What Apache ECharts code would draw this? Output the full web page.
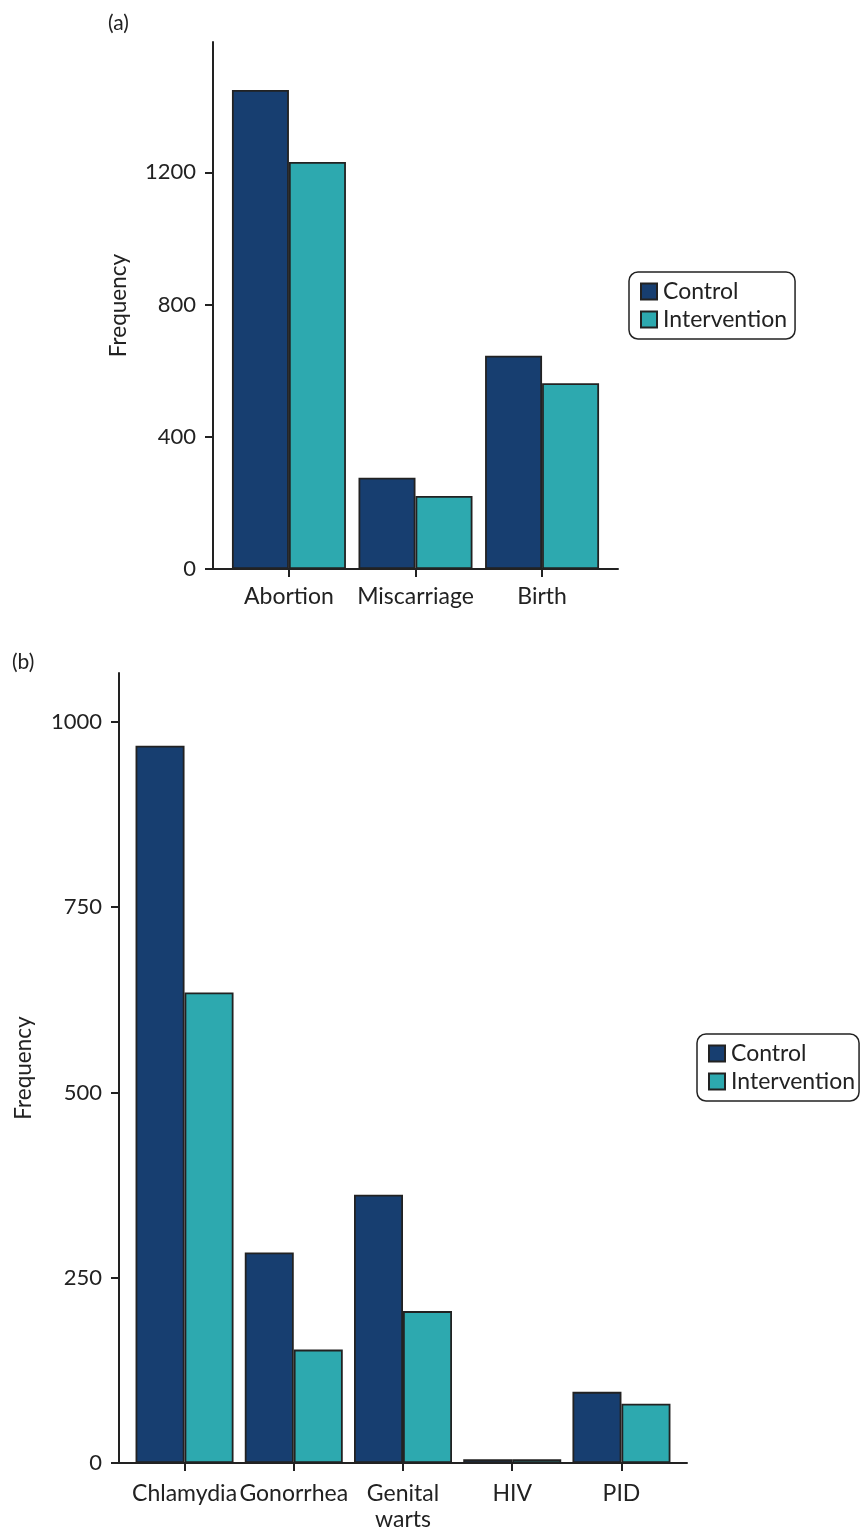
<!DOCTYPE html>
<html>
<head>
<meta charset="utf-8">
<script src="https://cdn.jsdelivr.net/npm/echarts@6/dist/echarts.min.js"></script>
<style>
  html, body { margin: 0; padding: 0; background: #fff; }
  #chart { width: 860px; height: 1528px; }
</style>
</head>
<body>
<div id="chart"></div>
<script>
// (a) pregnancy outcomes
const catsA = ['Abortion', 'Miscarriage', 'Birth'];
const controlA = [1449, 276, 645];
const interventionA = [1231, 221, 562];
const ticksA = [0, 400, 800, 1200];

// (b) sexually transmitted infections
const catsB = ['Chlamydia', 'Gonorrhea', 'Genital\nwarts', 'HIV', 'PID'];
const controlB = [968, 284, 362, 5, 96];
const interventionB = [635, 153, 205, 5, 80];
const ticksB = [0, 250, 500, 750, 1000];

const seriesNames = ['Control', 'Intervention'];
const colors = ['#173e70', '#2da9af'];
const FONT = 'Lato';
const INK = '#222';

// categories sit at 1..n on a value axis padded by 0.6 of a band on each side
const pos = (arr) => arr.map((v, i) => [i + 1, v]);
const posTicks = (cats) => cats.map((c, i) => i + 1);

function xAxisFor(cats, gridIndex, margin) {
  return {
    type: 'value', gridIndex,
    min: 0.4, max: cats.length + 0.6,
    splitLine: { show: false },
    axisLine: { onZero: false, lineStyle: { color: INK, width: 2 } },
    axisTick: { customValues: posTicks(cats), length: 8, lineStyle: { color: INK, width: 2 } },
    axisLabel: {
      customValues: posTicks(cats),
      formatter: (v) => cats[Math.round(v) - 1],
      color: INK, fontFamily: FONT, fontSize: 23, margin, lineHeight: 26,
      hideOverlap: false
    }
  };
}

function yAxisFor(ticks, max, gridIndex, nameGap) {
  return {
    type: 'value', gridIndex,
    min: 0, max,
    name: 'Frequency', nameLocation: 'middle', nameGap, nameRotate: 90,
    nameTextStyle: { color: INK, fontFamily: FONT, fontSize: 22.5 },
    splitLine: { show: false },
    axisLine: { show: true, onZero: false, lineStyle: { color: INK, width: 2 } },
    axisTick: { show: true, customValues: ticks, length: 8, lineStyle: { color: INK, width: 2 } },
    axisLabel: {
      customValues: ticks,
      formatter: (v) => String(v),
      color: INK, fontFamily: FONT, fontSize: 22, margin: 17
    }
  };
}

function barSeries(name, data, color, idx, width) {
  return {
    type: 'bar', name, data,
    xAxisIndex: idx, yAxisIndex: idx,
    barWidth: width, barGap: '0%',
    itemStyle: { color, borderColor: INK, borderWidth: 1.8 },
    emphasis: { disabled: true }
  };
}

function legendAt(left, top, padRight) {
  return {
    orient: 'vertical', left, top,
    data: seriesNames,
    icon: 'rect', itemWidth: 16, itemHeight: 16, itemGap: 5,
    padding: [8, padRight, 8, 11],
    borderColor: INK, borderWidth: 1.5, borderRadius: 9,
    selectedMode: false,
    textStyle: { color: INK, fontFamily: FONT, fontSize: 23, lineHeight: 22, padding: [0, 0, 0, 1] }
  };
}

const titleStyle = { color: INK, fontFamily: FONT, fontSize: 21, fontWeight: 'normal' };

const chart = echarts.init(document.getElementById('chart'), null, { renderer: 'canvas' });
chart.setOption({
  animation: false,
  backgroundColor: '#fff',
  title: [
    { text: '(a)', left: 103, top: 8, textStyle: titleStyle },
    { text: '(b)', left: 7, top: 647, textStyle: titleStyle }
  ],
  grid: [
    { left: 213, top: 42, width: 405, height: 527, outerBoundsMode: 'none', containLabel: false },
    { left: 119, top: 673, width: 568, height: 790, outerBoundsMode: 'none', containLabel: false }
  ],
  legend: [legendAt(629, 272, 8), legendAt(697, 1034, 4)],
  xAxis: [xAxisFor(catsA, 0, 15), xAxisFor(catsB, 1, 18)],
  yAxis: [yAxisFor(ticksA, 1594, 0, 83), yAxisFor(ticksB, 1066, 1, 84)],
  series: [
    barSeries(seriesNames[0], pos(controlA), colors[0], 0, 57),
    barSeries(seriesNames[1], pos(interventionA), colors[1], 0, 57),
    barSeries(seriesNames[0], pos(controlB), colors[0], 1, 49),
    barSeries(seriesNames[1], pos(interventionB), colors[1], 1, 49)
  ]
});
</script>
</body>
</html>
